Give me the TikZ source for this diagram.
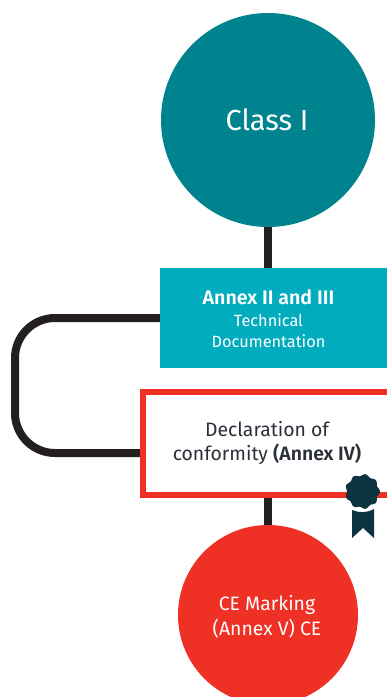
\documentclass[tikz,border=0pt]{standalone}
\usepackage{fontspec}
\setmainfont{Fira Sans}[BoldFont={Fira Sans SemiBold}]
\definecolor{tealdark}{HTML}{00838F}
\definecolor{tealbox}{HTML}{00ACBD}
\definecolor{redmain}{HTML}{EF3024}
\definecolor{linedark}{HTML}{231F20}
\definecolor{sealdark}{HTML}{0D3340}
\definecolor{txtdark}{HTML}{2B3038}
\tikzset{
  connector/.style={draw=linedark,line width=8.5pt},
  loopline/.style={draw=linedark,line width=8pt,rounded corners=40pt},
  bigdisc/.style={circle,inner sep=0pt,minimum size=#1,outer sep=0pt},
  boxtext/.style={align=center,inner sep=0pt,font=\fontsize{19.4}{24.5}\selectfont}
}
\begin{document}
\begin{tikzpicture}[x=1pt,y=-1pt]
\useasboundingbox (0,0) rectangle (387,697);
\clip (0,0) rectangle (387,697);
\coordinate (annextop) at (268,268);
\coordinate (declbottom) at (268,498);
\coordinate (annexleft) at (160,318);
\coordinate (declleft) at (140,453);
\node[bigdisc=214pt,fill=tealdark] (classone) at (268,120) {};
\node[bigdisc=180pt,fill=redmain] (cedisc) at (268,615) {};
\draw[connector] (classone.south) -- (annextop);
\draw[connector] (declbottom) -- (cedisc.north);
\draw[loopline] (annexleft) -- (15,318) -- (15,453) -- (declleft);
\node[inner sep=0pt,outer sep=0pt,fill=tealbox,minimum width=240pt,minimum height=100pt] (annexbox) at (280,318) {};
\node[inner sep=0pt,outer sep=0pt,draw=redmain,line width=6pt,fill=white,minimum width=270pt,minimum height=103pt] (declbox) at (278,443.5) {};
\node[boxtext,text=white,font=\fontsize{29}{34}\selectfont] (classtext) at (267,120) {Class I};
\node[boxtext,text=white,font=\fontsize{16.3}{21.5}\selectfont] (annextext) at (268.5,319) {{\fontsize{19.6}{21.5}\selectfont\textbf{Annex II and III}}\\Technical\\Documentation};
\node[boxtext,text=txtdark] (decltext) at (267,443) {Declaration of\\conformity \textbf{(Annex IV)}};
\node[boxtext,text=white] (cetext) at (267,617) {CE Marking\\(Annex V) CE};
% seal
\fill[sealdark] (352,510) .. controls (359,513) and (367,513) .. (374,509) -- (374,538) -- (363,528) -- (352,538) -- cycle;
\fill[sealdark,smooth,samples=145,domain=0:360] plot ({362.5+(16.5+1*cos(9*\x))*cos(\x)},{491.5+(16.5+1*cos(9*\x))*sin(\x)}) -- cycle;
\end{tikzpicture}
\end{document}
